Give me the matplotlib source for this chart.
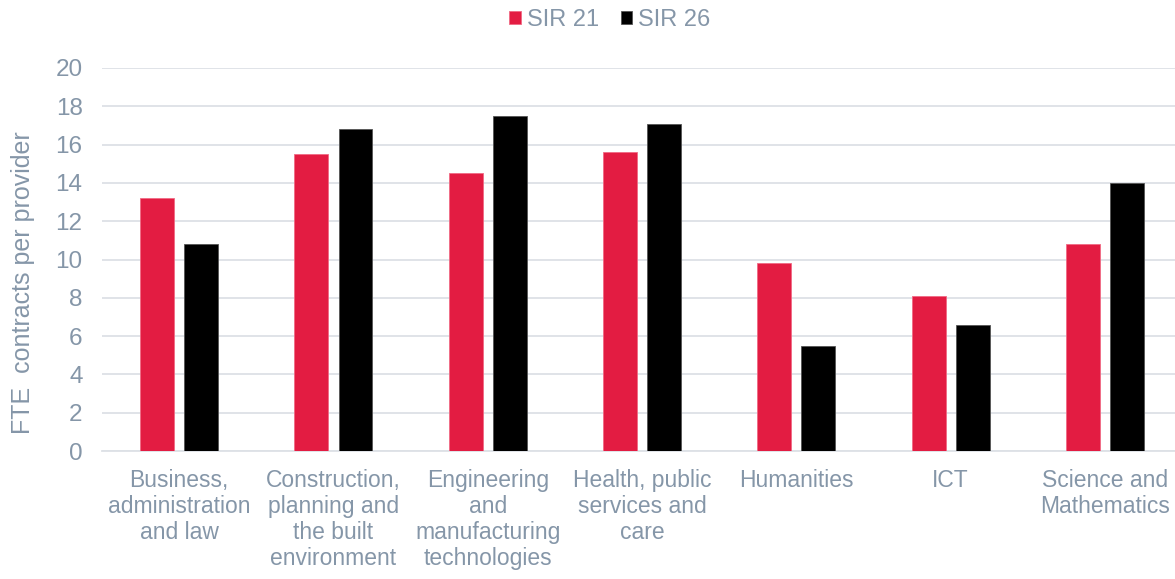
import matplotlib
matplotlib.use("Agg")
import matplotlib.pyplot as plt
import numpy as np

categories = [
    "Business,\nadministration\nand law",
    "Construction,\nplanning and\nthe built\nenvironment",
    "Engineering\nand\nmanufacturing\ntechnologies",
    "Health, public\nservices and\ncare",
    "Humanities",
    "ICT",
    "Science and\nMathematics",
]
sir21 = [13.2, 15.5, 14.5, 15.6, 9.8, 8.1, 10.8]
sir26 = [10.8, 16.8, 17.5, 17.1, 5.5, 6.6, 14.0]
yticks = [0, 2, 4, 6, 8, 10, 12, 14, 16, 18, 20]

RED = "#e31c42"
BLACK = "#000000"
TEXT = "#8596a8"
GRID = "#dde1e6"

plt.rcParams["font.family"] = ["Liberation Sans", "DejaVu Sans"]

fig = plt.figure(figsize=(11.75, 5.79), dpi=100)
W, H = 1175, 579
x0, x1 = 102, 1175
y0, y1 = 451, 68
ax = fig.add_axes([x0 / W, 1 - y0 / H, (x1 - x0) / W, (y0 - y1) / H])

x = np.arange(len(categories))
bw = 0.22
off = 0.143
ax.bar(x - off, sir21, width=bw, color=RED, edgecolor="#f06a84", linewidth=0.6,
       label="SIR 21", zorder=3)
ax.bar(x + off, sir26, width=bw, color=BLACK, edgecolor="#555555", linewidth=0.6,
       label="SIR 26", zorder=3)

span = (x1 - x0) / 154.3
ax.set_xlim(-0.5, -0.5 + span)
ax.set_ylim(0, 20)
ax.set_yticks(yticks)
ax.set_xticks(x)
ax.set_xticklabels(categories, fontsize=16.5, color=TEXT, linespacing=1.17, va="top")
ax.tick_params(axis="x", length=0, pad=13)
ax.tick_params(axis="y", length=0, pad=14, labelsize=17.5, labelcolor=TEXT)

ax.grid(axis="y", color=GRID, linewidth=1.3, zorder=0)
for s in ["top", "right", "left"]:
    ax.spines[s].set_visible(False)
ax.spines["bottom"].set_color(GRID)
ax.spines["bottom"].set_linewidth(1.3)

ax.set_ylabel("FTE  contracts per provider", fontsize=18, color=TEXT)
ax.yaxis.set_label_coords((35 - x0) / (x1 - x0), (y0 - 283) / (y0 - y1))

leg = fig.legend(loc="center", bbox_to_anchor=(610 / W, 1 - 20 / H), ncol=2,
                 frameon=False, fontsize=17, handlelength=0.5, handleheight=0.5,
                 handletextpad=0.25, columnspacing=0.9, labelcolor=TEXT)

fig.savefig("out.png", dpi=100)
